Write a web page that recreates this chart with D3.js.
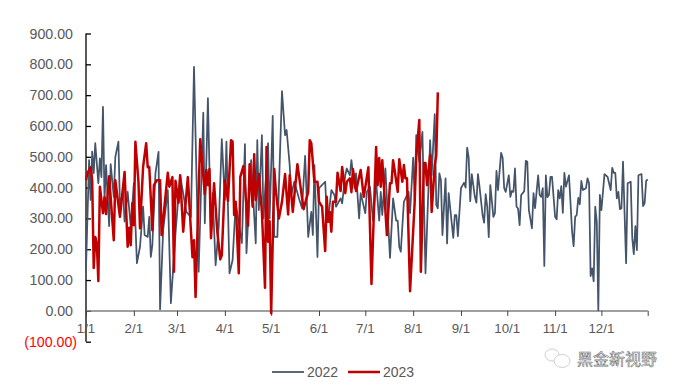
<!DOCTYPE html>
<html><head><meta charset="utf-8">
<script src="https://cdn.jsdelivr.net/npm/d3@7"></script>
<style>html,body{margin:0;padding:0;background:#fff}svg{display:block}</style></head>
<body><div id="chart"></div>
<script>
const yTicks=[900,800,700,600,500,400,300,200,100,0,-100];
const monthLabels=["1/1","2/1","3/1","4/1","5/1","6/1","7/1","8/1","9/1","10/1","11/1","12/1"];
const seriesNames=["2022","2023"];
const days2022=[0,2,3,4,5,6,8,9,10,11,12,13,15,16,18,19,21,22,24,25,27,29,31,33,35,37,38,40,41,42,43,45,47,48,50,53,55,58,61,65,68,70,73,76,77,79,81,82,84,86,88,90,91,93,95,97,101,103,104,107,110,111,112,114,115,118,119,121,122,124,127,129,130,132,133,135,138,140,142,144,146,147,148,150,151,155,156,157,159,161,162,165,166,168,169,171,172,174,175,177,178,179,181,182,184,186,188,190,191,192,194,197,199,201,202,203,204,206,209,210,212,213,214,216,218,220,221,223,224,226,227,228,229,230,231,233,234,235,238,239,240,241,243,245,246,247,248,249,250,252,253,254,255,257,258,259,260,261,262,264,265,266,267,269,270,271,272,274,275,276,277,278,279,280,281,282,283,284,285,286,287,289,290,291,293,294,295,296,297,298,299,300,301,302,304,305,306,307,308,309,310,311,313,315,316,317,318,319,320,321,322,324,325,326,327,328,329,330,331,332,333,334,336,338,340,341,342,343,344,345,346,347,348,350,351,353,354,355,356,357,358,360,361,362,363,364];
const values2022=[138,489,360,517,447,544,414,495,434,662,360,473,275,476,370,499,549,343,386,290,386,273,414,155,208,338,246,240,305,175,213,446,516,5,262,392,25,252,440,321,305,792,127,643,284,690,236,382,148,273,557,360,549,122,165,349,220,541,187,489,219,554,327,570,300,544,300,633,240,240,713,570,587,473,376,419,365,333,503,240,321,246,473,175,398,419,311,300,392,376,338,365,349,440,462,440,489,398,446,300,382,360,317,386,403,293,420,293,386,311,462,172,365,293,293,208,192,354,386,317,497,360,570,484,581,122,268,554,440,638,343,333,446,424,246,430,219,382,237,311,311,242,398,416,400,530,497,356,444,370,351,444,403,311,286,379,338,239,408,305,317,454,392,513,497,398,386,440,370,389,386,462,338,332,278,376,382,389,487,484,327,268,382,333,440,376,370,398,146,440,369,376,435,435,305,297,392,365,405,318,448,403,440,257,210,305,311,367,346,422,392,398,430,414,113,138,96,338,289,2,376,327,444,435,392,464,448,448,365,386,330,333,484,155,414,419,236,184,275,197,440,444,340,349,422,427];
const days2023=[0,1,3,4,5,6,7,8,9,11,12,13,15,18,19,22,25,27,28,29,30,31,32,34,35,37,39,40,41,43,44,46,48,49,53,54,56,57,58,60,61,63,66,69,70,71,74,77,78,79,80,81,83,85,87,88,90,92,94,95,96,97,99,100,102,105,106,108,109,110,112,114,116,117,118,119,120,122,123,125,127,129,131,132,134,137,141,144,145,146,148,150,151,153,155,156,157,158,159,160,162,163,165,166,168,169,171,172,173,175,178,180,183,185,188,189,190,191,192,195,197,198,199,200,202,203,205,206,207,208,210,213,214,216,217,219,220,221,223,224,226,227,228];
const values2023=[424,448,466,424,139,240,219,97,403,317,369,314,437,229,424,305,451,208,270,213,349,278,549,419,268,467,544,466,467,262,408,424,424,246,448,403,434,127,422,351,440,257,434,174,229,45,557,379,457,408,460,236,414,262,167,180,424,357,554,549,311,354,122,435,470,276,476,338,508,360,444,321,75,532,224,291,-8,460,392,300,354,444,313,440,321,476,330,386,554,544,419,419,354,338,194,370,289,321,257,354,354,448,389,467,382,419,430,385,460,389,457,370,466,87,532,408,496,403,489,246,414,414,489,457,386,492,419,473,430,430,64,354,500,619,127,480,480,408,505,321,473,505,709];

const W=678,H=388;
const svg=d3.select("#chart").append("svg").attr("width",W).attr("height",H)
  .style("font-family","'Liberation Sans',Arial,sans-serif");
const x=d3.scaleLinear().domain([0,364]).range([86,647.7]);
const y=d3.scaleLinear().domain([-100,900]).range([341.7,33.5]);
const yearStart=new Date(Date.UTC(2022,0,1));
const monthDays=d3.utcMonth.range(yearStart,new Date(Date.UTC(2023,0,1))).map(d=>d3.utcDay.count(yearStart,d));

// y axis
const ya=d3.axisRight(y).tickValues(yTicks).tickSize(5).tickFormat("");
const yg=svg.append("g").attr("transform","translate(86,0)").call(ya);
yg.selectAll("path,line").attr("stroke","#000").attr("stroke-width",1.3);
yg.select(".domain").attr("d",`M0,${y(900)}V${y(-100)}`);
svg.selectAll("text.yl").data(yTicks).join("text").attr("class","yl")
  .attr("x",d=>d<0?77:73).attr("y",d=>y(d)+5).attr("text-anchor","end")
  .attr("font-size",14.2).attr("fill",d=>d<0?"#ff0000":"#595959")
  .text(d=>d<0?`(${Math.abs(d).toFixed(2)})`:d.toFixed(2));

// x axis
const xa=d3.axisBottom(x).tickValues(monthDays.concat([364])).tickSize(5).tickFormat("");
const xg=svg.append("g").attr("transform",`translate(0,${y(0)})`).call(xa);
xg.selectAll("line").attr("stroke","#404040").attr("stroke-width",1);
xg.select(".domain").attr("d",`M${x(0)},0H${x(364)}`).attr("stroke","#7f7f7f").attr("stroke-width",1.5);
svg.selectAll("text.xl").data(monthLabels).join("text").attr("class","xl")
  .attr("x",(d,i)=>x(monthDays[i])).attr("y",333).attr("text-anchor","middle")
  .attr("font-size",13.3).attr("fill","#595959").text(d=>d);

const line=d3.line().x(d=>x(d[0])).y(d=>y(d[1])).curve(d3.curveLinear);
const colors=["#44546a","#c00000"],widths=[1.75,2.5];
[[days2022,values2022],[days2023,values2023]].forEach(([ds,vs],i)=>{
  svg.append("path").datum(ds.map((d,k)=>[d,vs[k]])).attr("d",line)
    .attr("fill","none").attr("stroke",colors[i]).attr("stroke-width",widths[i]).attr("stroke-linejoin","round");
});

// legend
const legendX=[272,348];
seriesNames.forEach((n,i)=>{
  svg.append("line").attr("x1",legendX[i]).attr("x2",legendX[i]+32).attr("y1",372).attr("y2",372)
    .attr("stroke",colors[i]).attr("stroke-width",widths[i]);
  svg.append("text").attr("x",legendX[i]+35).attr("y",377).attr("font-size",14).attr("fill","#595959").text(n);
});

// watermark
const wm=svg.append("g").attr("fill","#fff").attr("stroke","#c4c4c4").attr("stroke-width",0.8);
wm.append("ellipse").attr("cx",552).attr("cy",355).attr("rx",7).attr("ry",6);
wm.append("ellipse").attr("cx",562).attr("cy",361).attr("rx",8).attr("ry",6.5);
svg.append("text").attr("x",577).attr("y",365).attr("font-size",16)
  .attr("font-family","'Noto Sans CJK SC',sans-serif").attr("fill","#fff")
  .attr("stroke","#777").attr("stroke-width",0.6).text("黑金新视野");
</script></body></html>
